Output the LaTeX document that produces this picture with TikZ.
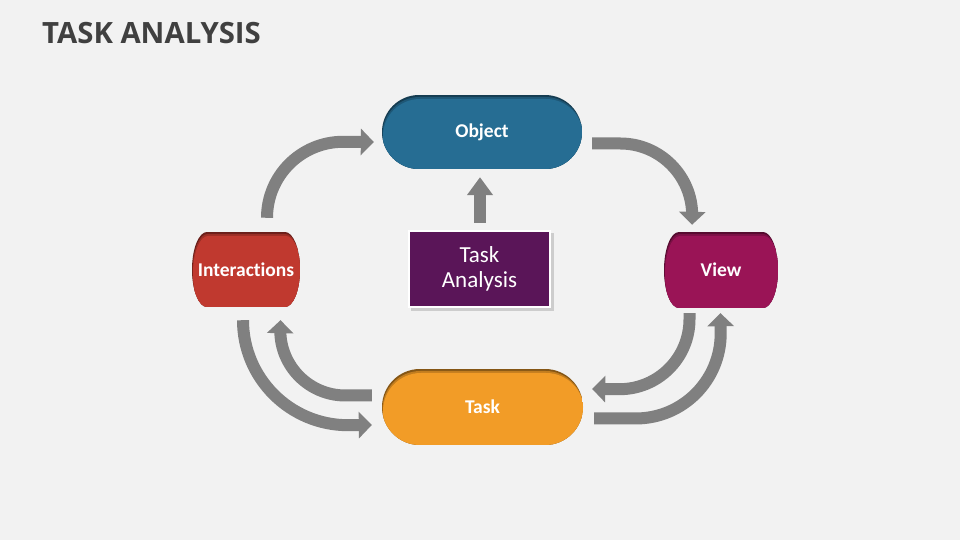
\documentclass[tikz,border=0pt]{standalone}
\usepackage{fontspec}
\setmainfont{Carlito}[Ligatures={NoCommon,NoRare,NoDiscretionary,NoContextual}]
\newfontfamily\titlefont{Open Sans}
\usetikzlibrary{arrows.meta,calc}
\definecolor{bg}{HTML}{F2F2F2}
\definecolor{titlegray}{HTML}{404040}
\definecolor{arrowgray}{HTML}{808080}
\definecolor{objblue}{HTML}{266D93}
\definecolor{interred}{HTML}{C0392F}
\definecolor{viewmaroon}{HTML}{9A1456}
\definecolor{taskorange}{HTML}{F29C27}
\definecolor{tapurple}{HTML}{5A1558}
% path of a box with half-elliptic ends: x1 y1 x2 y2 rx
\newcommand{\blobshape}[5]{({(#1)+(#5)},{#2}) -- ({(#3)-(#5)},{#2}) arc[start angle=-90,end angle=90,x radius=#5,y radius={((#4)-(#2))/2}] -- ({(#1)+(#5)},{#4}) arc[start angle=90,end angle=270,x radius=#5,y radius={((#4)-(#2))/2}] -- cycle}
% name x1 y1 x2 y2 rx colour text
\newcommand{\blob}[8]{%
  \begin{scope}
    \clip \blobshape{#2}{#3}{#4}{#5}{#6};
    \fill[#7!55!black] (#2,#3) rectangle (#4,#5);
    \fill[#7!80!black] \blobshape{#2+0.5}{#3-2}{#4+0.5}{#5-2}{#6};
    \fill[#7] \blobshape{#2+1}{#3-4}{#4+1}{#5-4}{#6};
  \end{scope}
  \node[lbl, minimum width={#4-#2}, minimum height={#5-#3}] (#1) at ({(#2+#4)/2},{(#3+#5)/2}) {#8};
}
\tikzset{
  lbl/.style={inner sep=0pt, text=white, font=\bfseries\fontsize{19.5}{22}\selectfont},
  arr/.style={draw=arrowgray, line width=12pt, -{Triangle[width=26pt,length=13pt]}},
}
\begin{document}
\begin{tikzpicture}[x=1pt,y=1pt]
  \fill[bg] (0,0) rectangle (960,540);
  \useasboundingbox (0,0) rectangle (960,540);

  \node[anchor=base west, inner sep=0pt, text=titlegray,
        font=\titlefont\bfseries\fontsize{29.3}{32}\selectfont] (title) at (42,496) {TASK ANALYSIS};

  \blob{obj}{382}{371}{582}{445}{37}{objblue}{Object}
  \blob{task}{382}{95}{583}{171}{38}{taskorange}{Task}
  \blob{inter}{192}{233}{300}{308}{15}{interred}{Interactions}
  \blob{view}{664}{232}{778}{308}{15}{viewmaroon}{View}

  \fill[black, opacity=0.15] (411,229) rectangle (554,307);
  \node[draw=white, line width=2pt, fill=tapurple, minimum width=141, minimum height=76,
        inner sep=0pt, text=white, align=center,
        font=\fontsize{23}{25}\selectfont] (ta) at (479.5,271) {Task\\Analysis};

  % Interactions -> Object
  \draw[arr] ($(inter.north)+(21,14)$) arc[start angle=180,end angle=90,radius=76]
             -- ($(obj.west)+(-8,-10)$);
  % Object -> View
  \draw[arr] ($(obj.east)+(10,-11.5)$) -- ++(28,0) arc[start angle=90,end angle=0,radius=72]
             -- ($(view.north)+(-29,7)$);
  % View -> Task
  \draw[arr] ($(view.south)+(-31.5,-5)$) -- ++(0,-6) arc[start angle=0,end angle=-90,radius=70]
             -- ($(task.east)+(9,18)$);
  % Task -> View
  \draw[arr] ($(task.east)+(11,-11.5)$) -- ++(41.5,0) arc[start angle=-90,end angle=0,radius=85]
             -- ($(view.south)+(-0.5,-5)$);
  % Interactions -> Task
  \draw[arr] ($(inter.south)+(-3,-13)$) arc[start angle=180,end angle=270,radius=105]
             -- ($(task.west)+(-10,-18)$);
  % Task -> Interactions
  \draw[arr] ($(task.west)+(-10,11.5)$) -- ++(-26.5,0) arc[start angle=270,end angle=180,radius=65]
             -- ($(inter.south)+(34.5,-13)$);
  % Task Analysis -> Object
  \draw[draw=arrowgray, line width=12pt, -{Triangle[width=25pt,length=18pt]}]
       ($(ta.north)+(0.5,7)$) -- ($(obj.south)+(-2,-8)$);
\end{tikzpicture}
\end{document}
